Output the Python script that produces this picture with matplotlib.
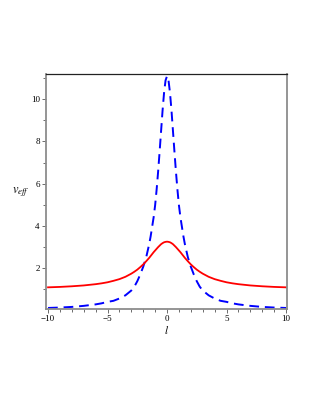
import matplotlib.pyplot as plt
from matplotlib.ticker import MultipleLocator

plt.rcParams["mathtext.fontset"] = "stix"

# l values (symmetric about 0)
l_vals = [-10, -9, -8, -7, -6, -5.5, -5, -4.5, -4, -3.5, -3, -2.75, -2.5, -2.25, -2,
          -1.75, -1.5, -1.375, -1.25, -1.125, -1, -0.875, -0.75, -0.625, -0.5, -0.375,
          -0.25, -0.125, 0, 0.125, 0.25, 0.375, 0.5, 0.625, 0.75, 0.875, 1, 1.125, 1.25,
          1.375, 1.5, 1.75, 2, 2.25, 2.5, 2.75, 3, 3.5, 4, 4.5, 5, 5.5, 6, 7, 8, 9, 10]

# blue dashed curve
v_blue = [0.09, 0.11, 0.14, 0.19, 0.26, 0.31, 0.38, 0.43, 0.54, 0.69, 0.92, 1.10, 1.36, 1.68, 2.05,
          2.50, 3.12, 3.50, 3.95, 4.40, 4.97, 5.71, 6.56, 7.50, 8.49, 9.47,
          10.31, 10.90, 11.11, 10.90, 10.31, 9.47, 8.49, 7.50, 6.56, 5.71, 4.97, 4.40, 3.95,
          3.50, 3.12, 2.50, 2.05, 1.68, 1.36, 1.10, 0.92, 0.69, 0.54, 0.43, 0.38, 0.31, 0.26, 0.19, 0.14, 0.11, 0.09]

# red solid curve
v_red = [1.07, 1.09, 1.12, 1.16, 1.22, 1.26, 1.31, 1.38, 1.46, 1.57, 1.72, 1.81, 1.91, 2.03, 2.16,
         2.31, 2.47, 2.56, 2.65, 2.74, 2.82, 2.90, 2.98, 3.05, 3.12, 3.17,
         3.21, 3.23, 3.24, 3.23, 3.21, 3.17, 3.12, 3.05, 2.98, 2.90, 2.82, 2.74, 2.65,
         2.56, 2.47, 2.31, 2.16, 2.03, 1.91, 1.81, 1.72, 1.57, 1.46, 1.38, 1.31, 1.26, 1.22, 1.16, 1.12, 1.09, 1.07]

fig = plt.figure(figsize=(3.13, 4.05), dpi=100)
ax = fig.add_axes([0.147, 0.237, 0.771, 0.580])

ax.plot(l_vals, v_blue, color="#0000ff", lw=1.4, dashes=(5, 3))
ax.plot(l_vals, v_red, color="#ff0000", lw=1.3)

ax.set_xlim(-10.17, 10.11)
ax.set_ylim(0.04, 11.2)

ax.xaxis.set_major_locator(MultipleLocator(5))
ax.xaxis.set_minor_locator(MultipleLocator(1))
ax.yaxis.set_major_locator(MultipleLocator(2))
ax.yaxis.set_minor_locator(MultipleLocator(1))

ax.tick_params(which="both", direction="out", color="#555555", width=0.6,
               labelsize=6.5, pad=1.5)
ax.tick_params(which="major", length=3)
ax.tick_params(which="minor", length=2)
ax.set_xticks([-10, -5, 0, 5, 10], ["\u221210", "\u22125", "0", "5", "10"])
for lab in ax.get_xticklabels() + ax.get_yticklabels():
    lab.set_family("Liberation Serif")

for side in ["left", "bottom", "right"]:
    ax.spines[side].set_color("#8c8c8c")
    ax.spines[side].set_linewidth(1.3)
ax.spines["top"].set_color("#222222")
ax.spines["top"].set_linewidth(0.9)

ax.set_xlabel("$l$", fontsize=8, labelpad=0.5)
fig.text(0.068, 0.525, r"$v_{eff}$", fontsize=9, ha="center", va="center")

fig.savefig("out.png", dpi=100)
